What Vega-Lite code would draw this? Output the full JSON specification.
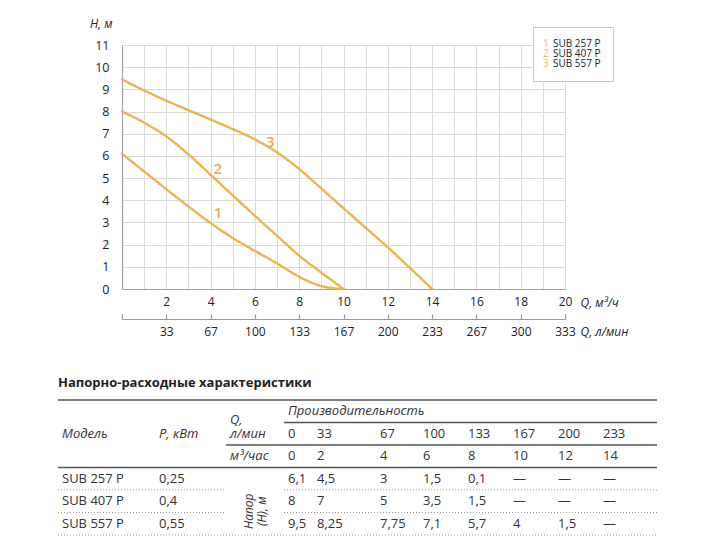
{
  "$schema": "https://vega.github.io/schema/vega-lite/v6.json",
  "autosize": {"type": "none"},
  "padding": {"left": 122, "top": 45, "right": 155, "bottom": 251},
  "width": 443,
  "height": 244,
  "background": "#ffffff",
  "config": {"view": {"stroke": null}, "font": "Open Sans"},
  "datasets": {
    "curves": [
      {"model": "SUB 257 P", "num": "1", "q": 0, "h": 6.1},
      {"model": "SUB 257 P", "num": "1", "q": 1, "h": 5.3},
      {"model": "SUB 257 P", "num": "1", "q": 2, "h": 4.5},
      {"model": "SUB 257 P", "num": "1", "q": 3, "h": 3.72},
      {"model": "SUB 257 P", "num": "1", "q": 4, "h": 2.97},
      {"model": "SUB 257 P", "num": "1", "q": 5, "h": 2.3},
      {"model": "SUB 257 P", "num": "1", "q": 6, "h": 1.72},
      {"model": "SUB 257 P", "num": "1", "q": 7, "h": 1.15},
      {"model": "SUB 257 P", "num": "1", "q": 8, "h": 0.55},
      {"model": "SUB 257 P", "num": "1", "q": 9, "h": 0.13},
      {"model": "SUB 257 P", "num": "1", "q": 10, "h": 0},
      {"model": "SUB 407 P", "num": "2", "q": 0, "h": 8.0},
      {"model": "SUB 407 P", "num": "2", "q": 1, "h": 7.5},
      {"model": "SUB 407 P", "num": "2", "q": 2, "h": 6.88},
      {"model": "SUB 407 P", "num": "2", "q": 3, "h": 6.07},
      {"model": "SUB 407 P", "num": "2", "q": 4, "h": 5.15},
      {"model": "SUB 407 P", "num": "2", "q": 5, "h": 4.22},
      {"model": "SUB 407 P", "num": "2", "q": 6, "h": 3.3},
      {"model": "SUB 407 P", "num": "2", "q": 7, "h": 2.4},
      {"model": "SUB 407 P", "num": "2", "q": 8, "h": 1.5},
      {"model": "SUB 407 P", "num": "2", "q": 9, "h": 0.74},
      {"model": "SUB 407 P", "num": "2", "q": 10, "h": 0},
      {"model": "SUB 557 P", "num": "3", "q": 0, "h": 9.45},
      {"model": "SUB 557 P", "num": "3", "q": 1, "h": 8.95},
      {"model": "SUB 557 P", "num": "3", "q": 2, "h": 8.49},
      {"model": "SUB 557 P", "num": "3", "q": 3, "h": 8.06},
      {"model": "SUB 557 P", "num": "3", "q": 4, "h": 7.64},
      {"model": "SUB 557 P", "num": "3", "q": 5, "h": 7.21},
      {"model": "SUB 557 P", "num": "3", "q": 6, "h": 6.74},
      {"model": "SUB 557 P", "num": "3", "q": 7, "h": 6.16},
      {"model": "SUB 557 P", "num": "3", "q": 8, "h": 5.41},
      {"model": "SUB 557 P", "num": "3", "q": 9, "h": 4.53},
      {"model": "SUB 557 P", "num": "3", "q": 10, "h": 3.64},
      {"model": "SUB 557 P", "num": "3", "q": 11, "h": 2.76},
      {"model": "SUB 557 P", "num": "3", "q": 12, "h": 1.88},
      {"model": "SUB 557 P", "num": "3", "q": 13, "h": 0.95},
      {"model": "SUB 557 P", "num": "3", "q": 14, "h": 0}
    ],
    "curveLabels": [
      {"num": "1", "q": 4.34, "h": 3.41},
      {"num": "2", "q": 4.32, "h": 5.4},
      {"num": "3", "q": 6.69, "h": 6.61}
    ],
    "tableTitle": [{"c": 0, "r": 0, "t": "Напорно-расходные характеристики"}],
    "tableHead": [
      {"c": 0, "r": 2, "t": "Модель"},
      {"c": 1, "r": 2, "t": "P, кВт"},
      {"c": 2, "r": 1.4, "t": "Q,"},
      {"c": 2, "r": 2, "t": "л/мин"},
      {"c": 2, "r": 3, "t": "м³/час"},
      {"c": 3, "r": 1, "t": "Производительность"}
    ],
    "tableNote": [{"c": 2, "r": 5, "t": "Напор\n(H), м"}],
    "tableBody": [
      {"c": 3, "r": 2, "t": "0"}, {"c": 4, "r": 2, "t": "33"}, {"c": 5, "r": 2, "t": "67"}, {"c": 6, "r": 2, "t": "100"},
      {"c": 7, "r": 2, "t": "133"}, {"c": 8, "r": 2, "t": "167"}, {"c": 9, "r": 2, "t": "200"}, {"c": 10, "r": 2, "t": "233"},
      {"c": 3, "r": 3, "t": "0"}, {"c": 4, "r": 3, "t": "2"}, {"c": 5, "r": 3, "t": "4"}, {"c": 6, "r": 3, "t": "6"},
      {"c": 7, "r": 3, "t": "8"}, {"c": 8, "r": 3, "t": "10"}, {"c": 9, "r": 3, "t": "12"}, {"c": 10, "r": 3, "t": "14"},
      {"c": 0, "r": 4, "t": "SUB 257 P"}, {"c": 1, "r": 4, "t": "0,25"},
      {"c": 3, "r": 4, "t": "6,1"}, {"c": 4, "r": 4, "t": "4,5"}, {"c": 5, "r": 4, "t": "3"}, {"c": 6, "r": 4, "t": "1,5"},
      {"c": 7, "r": 4, "t": "0,1"}, {"c": 8, "r": 4, "t": "—"}, {"c": 9, "r": 4, "t": "—"}, {"c": 10, "r": 4, "t": "—"},
      {"c": 0, "r": 5, "t": "SUB 407 P"}, {"c": 1, "r": 5, "t": "0,4"},
      {"c": 3, "r": 5, "t": "8"}, {"c": 4, "r": 5, "t": "7"}, {"c": 5, "r": 5, "t": "5"}, {"c": 6, "r": 5, "t": "3,5"},
      {"c": 7, "r": 5, "t": "1,5"}, {"c": 8, "r": 5, "t": "—"}, {"c": 9, "r": 5, "t": "—"}, {"c": 10, "r": 5, "t": "—"},
      {"c": 0, "r": 6, "t": "SUB 557 P"}, {"c": 1, "r": 6, "t": "0,55"},
      {"c": 3, "r": 6, "t": "9,5"}, {"c": 4, "r": 6, "t": "8,25"}, {"c": 5, "r": 6, "t": "7,75"}, {"c": 6, "r": 6, "t": "7,1"},
      {"c": 7, "r": 6, "t": "5,7"}, {"c": 8, "r": 6, "t": "4"}, {"c": 9, "r": 6, "t": "1,5"}, {"c": 10, "r": 6, "t": "—"}
    ],
    "tableRules": [
      {"r": 0.5, "c1": 0, "c2": 11, "kind": "solid"},
      {"r": 1.5, "c1": 3, "c2": 11, "kind": "solid"},
      {"r": 2.5, "c1": 2, "c2": 11, "kind": "solid"},
      {"r": 3.5, "c1": 0, "c2": 11, "kind": "solid"},
      {"r": 4.5, "c1": 0, "c2": 2, "kind": "dotted"},
      {"r": 4.5, "c1": 3, "c2": 11, "kind": "dotted"},
      {"r": 5.5, "c1": 0, "c2": 2, "kind": "dotted"},
      {"r": 5.5, "c1": 3, "c2": 11, "kind": "dotted"},
      {"r": 6.5, "c1": 0, "c2": 11, "kind": "dotted"}
    ]
  },
  "layer": [
    {
      "layer": [
        {
          "data": {"name": "curves"},
          "mark": {"type": "line", "interpolate": "monotone", "strokeWidth": 2.4, "strokeCap": "round"},
          "encoding": {
            "x": {
              "field": "q", "type": "quantitative",
              "scale": {"domain": [0, 20], "nice": false, "zero": false},
              "axis": {
                "values": [0,1,2,3,4,5,6,7,8,9,10,11,12,13,14,15,16,17,18,19,20],
                "labelExpr": "datum.value > 0 && datum.value % 2 == 0 ? datum.label : ''",
                "ticks": false, "tickSize": 0, "labelPadding": 7,
                "grid": true, "gridColor": "#d9d9d9", "gridWidth": 1,
                "domainColor": "#a0a0a0", "domainWidth": 1.2,
                "labelFontSize": 12, "labelColor": "#222222", "labelFlush": false, "labelOverlap": false,
                "title": "Q, м³/ч", "titleFontStyle": "italic", "titleFontWeight": "normal", "titleFontSize": 12,
                "titleColor": "#222222", "titleX": 458, "titleY": 13.5, "titleAlign": "left",
                "titleBaseline": "middle", "titleAnchor": "start"
              }
            },
            "y": {
              "field": "h", "type": "quantitative",
              "scale": {"domain": [0, 11], "nice": false},
              "axis": {
                "values": [0,1,2,3,4,5,6,7,8,9,10,11],
                "ticks": false, "tickSize": 0, "labelPadding": 13,
                "grid": true, "gridColor": "#d9d9d9", "gridWidth": 1,
                "domainColor": "#a0a0a0", "domainWidth": 1.2,
                "labelFontSize": 12.5, "labelColor": "#222222",
                "title": "H, м", "titleAngle": 0, "titleX": -10, "titleY": -22, "titleAlign": "right",
                "titleBaseline": "middle", "titleFontStyle": "italic", "titleFontWeight": "normal",
                "titleFontSize": 12, "titleColor": "#222222"
              }
            },
            "color": {
              "field": "model", "type": "nominal",
              "scale": {"range": ["#ecb54b", "#ecb54b", "#ecb54b"]},
              "legend": {
                "orient": "none", "legendX": 411, "legendY": -18, "title": null,
                "symbolSize": 0, "symbolOpacity": 0, "symbolStrokeWidth": 0,
                "labelOffset": -2, "padding": 12, "rowPadding": 0,
                "strokeColor": "#c8c8c8", "fillColor": "#ffffff",
                "labelFontSize": 10, "labelColor": "#222222"
              }
            },
            "strokeDash": {
              "field": "num", "type": "nominal",
              "scale": {"range": [[1, 0], [1, 0], [1, 0]]},
              "legend": {
                "orient": "none", "legendX": 411, "legendY": -18, "title": null,
                "symbolSize": 0, "symbolOpacity": 0, "symbolStrokeWidth": 0,
                "labelOffset": -12, "padding": 12, "rowPadding": 0,
                "labelFontSize": 10, "labelColor": "#f0bd55"
              }
            }
          }
        },
        {
          "data": {"name": "curveLabels"},
          "mark": {"type": "text", "fontSize": 15, "fontWeight": 600, "color": "#e8ad3f", "align": "center", "baseline": "middle"},
          "encoding": {
            "x": {
              "field": "q", "type": "quantitative",
              "axis": {
                "orient": "bottom", "offset": 30,
                "values": [0,2,4,6,8,10,12,14,16,18,20],
                "labelExpr": "datum.value == 0 ? '' : format(datum.value * 1000 / 60, '.0f')",
                "ticks": true, "tickSize": -5, "tickColor": "#999999", "tickWidth": 1.2,
                "domain": true, "domainColor": "#999999", "domainWidth": 1.2,
                "grid": false, "labelPadding": 12,
                "labelFontSize": 12, "labelColor": "#222222", "labelFlush": false, "labelOverlap": false,
                "title": "Q, л/мин", "titleFontStyle": "italic", "titleFontWeight": "normal", "titleFontSize": 12,
                "titleColor": "#222222", "titleX": 458, "titleY": 12.5, "titleAlign": "left",
                "titleBaseline": "middle", "titleAnchor": "start"
              }
            },
            "y": {"field": "h", "type": "quantitative", "axis": null},
            "text": {"field": "num"}
          }
        }
      ],
      "resolve": {"axis": {"x": "independent", "y": "independent"}}
    },
    {
      "encoding": {
        "x": {
          "type": "quantitative",
          "scale": {"domain": [0,1,2,3,4,5,6,7,8,9,10,11], "range": [-64,33,104,162,191,254,297,342,387,432,477,535], "nice": false, "zero": false},
          "axis": null
        },
        "y": {
          "type": "quantitative",
          "scale": {"domain": [0, 0.5, 6.5], "range": [338, 355, 490], "nice": false, "zero": false},
          "axis": null
        }
      },
      "layer": [
        {
          "data": {"name": "tableRules"},
          "transform": [{"filter": "datum.kind == 'solid'"}],
          "mark": {"type": "rule", "color": "#555555", "strokeWidth": 1.3},
          "encoding": {"x": {"field": "c1", "type": "quantitative"}, "x2": {"field": "c2"}, "y": {"field": "r", "type": "quantitative"}}
        },
        {
          "data": {"name": "tableRules"},
          "transform": [{"filter": "datum.kind == 'dotted'"}],
          "mark": {"type": "rule", "color": "#9a9a9a", "strokeWidth": 1, "strokeDash": [1, 2]},
          "encoding": {"x": {"field": "c1", "type": "quantitative"}, "x2": {"field": "c2"}, "y": {"field": "r", "type": "quantitative"}}
        },
        {
          "data": {"name": "tableTitle"},
          "mark": {"type": "text", "align": "left", "baseline": "middle", "fontSize": 13, "fontWeight": "bold", "color": "#222222"},
          "encoding": {"x": {"field": "c", "type": "quantitative"}, "y": {"field": "r", "type": "quantitative"}, "text": {"field": "t"}}
        },
        {
          "data": {"name": "tableHead"},
          "mark": {"type": "text", "align": "left", "baseline": "middle", "fontSize": 13, "fontStyle": "italic", "color": "#333333", "dx": 4},
          "encoding": {"x": {"field": "c", "type": "quantitative"}, "y": {"field": "r", "type": "quantitative"}, "text": {"field": "t"}}
        },
        {
          "data": {"name": "tableBody"},
          "mark": {"type": "text", "align": "left", "baseline": "middle", "fontSize": 13, "color": "#333333", "dx": 4},
          "encoding": {"x": {"field": "c", "type": "quantitative"}, "y": {"field": "r", "type": "quantitative"}, "text": {"field": "t"}}
        },
        {
          "data": {"name": "tableNote"},
          "mark": {"type": "text", "align": "center", "baseline": "middle", "fontSize": 12, "fontStyle": "italic", "color": "#333333", "angle": 270, "lineBreak": "\n", "lineHeight": 13, "dx": -10, "dy": 23},
          "encoding": {"x": {"field": "c", "type": "quantitative"}, "y": {"field": "r", "type": "quantitative"}, "text": {"field": "t"}}
        }
      ]
    }
  ],
  "resolve": {"scale": {"x": "independent", "y": "independent"}}
}
